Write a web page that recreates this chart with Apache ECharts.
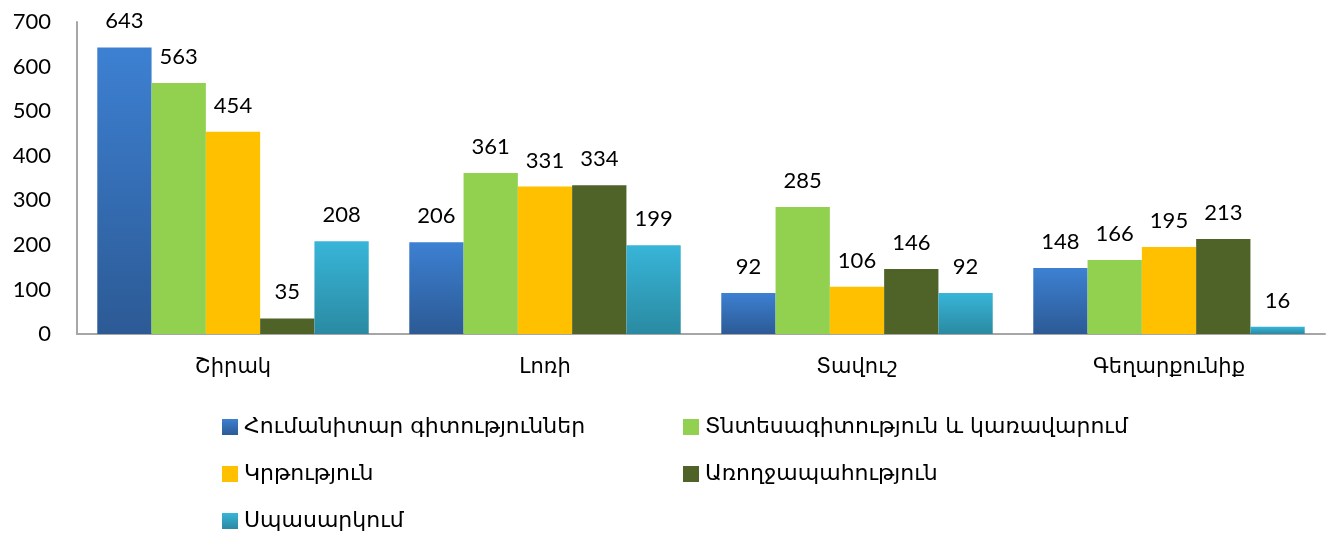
<!DOCTYPE html>
<html>
<head>
<meta charset="utf-8">
<script src="https://cdn.jsdelivr.net/npm/echarts@6/dist/echarts.min.js"></script>
<style>
  html, body { margin: 0; padding: 0; background: #fff; }
  #chart { width: 1332px; height: 535px; }
</style>
</head>
<body>
<div id="chart"></div>
<script>
  // data
  var regions = ['Շիրակ', 'Լոռի', 'Տավուշ', 'Գեղարքունիք'];
  var seriesNames = [
    'Հումանիտար գիտություններ',
    'Տնտեսագիտություն և կառավարում',
    'Կրթություն',
    'Առողջապահություն',
    'Սպասարկում'
  ];
  var humanities = [643, 206, 92, 148];
  var economics = [563, 361, 285, 166];
  var education = [454, 331, 106, 195];
  var health = [35, 334, 146, 213];
  var service = [208, 199, 92, 16];
  var yTicks = [0, 100, 200, 300, 400, 500, 600, 700];

  var fontNum = 'Lato, "DejaVu Sans", sans-serif';
  var fontArm = '"DejaVu Sans", "Noto Sans", sans-serif';

  function grad(top, bottom) {
    return new echarts.graphic.LinearGradient(0, 0, 0, 1, [
      { offset: 0, color: top },
      { offset: 1, color: bottom }
    ]);
  }

  var colors = [
    grad('#3d80d2', '#2c5a95'),
    '#92d050',
    '#ffc000',
    '#4f6228',
    grad('#38b5d8', '#2a8aa2')
  ];
  var values = [humanities, economics, education, health, service];

  var chart = echarts.init(document.getElementById('chart'));

  // legend positions, two columns
  var legendPos = [
    { left: 222, top: 416 },
    { left: 683, top: 416 },
    { left: 222, top: 463 },
    { left: 683, top: 463 },
    { left: 222, top: 510 }
  ];

  var legends = seriesNames.map(function (name, i) {
    return {
      data: [name],
      left: legendPos[i].left,
      top: legendPos[i].top,
      padding: 0,
      itemWidth: 16,
      itemHeight: 16,
      itemGap: 0,
      icon: 'rect',
      selectedMode: false,
      textStyle: { fontFamily: fontArm, fontSize: 22, color: '#000', padding: [0, 0, 0, 1] }
    };
  });

  var series = seriesNames.map(function (name, i) {
    return {
      name: name,
      type: 'bar',
      data: values[i],
      barGap: '0%',
      barCategoryGap: '13%',
      itemStyle: { color: colors[i] },
      label: {
        show: true,
        position: 'top',
        distance: 15,
        fontFamily: fontNum,
        fontSize: 22,
        color: '#000'
      }
    };
  });

  var option = {
    animation: false,
    legend: legends,
    grid: { left: 77, right: 7, top: 22, bottom: 201 },
    xAxis: {
      type: 'category',
      data: regions,
      axisLine: { lineStyle: { color: '#a6a6a6', width: 2 } },
      axisTick: { show: false },
      axisLabel: { fontFamily: fontArm, fontSize: 21, color: '#000', margin: 23 }
    },
    yAxis: {
      type: 'value',
      min: yTicks[0],
      max: yTicks[yTicks.length - 1],
      interval: 100,
      axisLine: { show: true, lineStyle: { color: '#a6a6a6', width: 2 } },
      axisTick: { show: false },
      splitLine: { show: false },
      axisLabel: { fontFamily: fontNum, fontSize: 22, color: '#000', margin: 26 }
    },
    series: series
  };

  chart.setOption(option);
</script>
</body>
</html>
